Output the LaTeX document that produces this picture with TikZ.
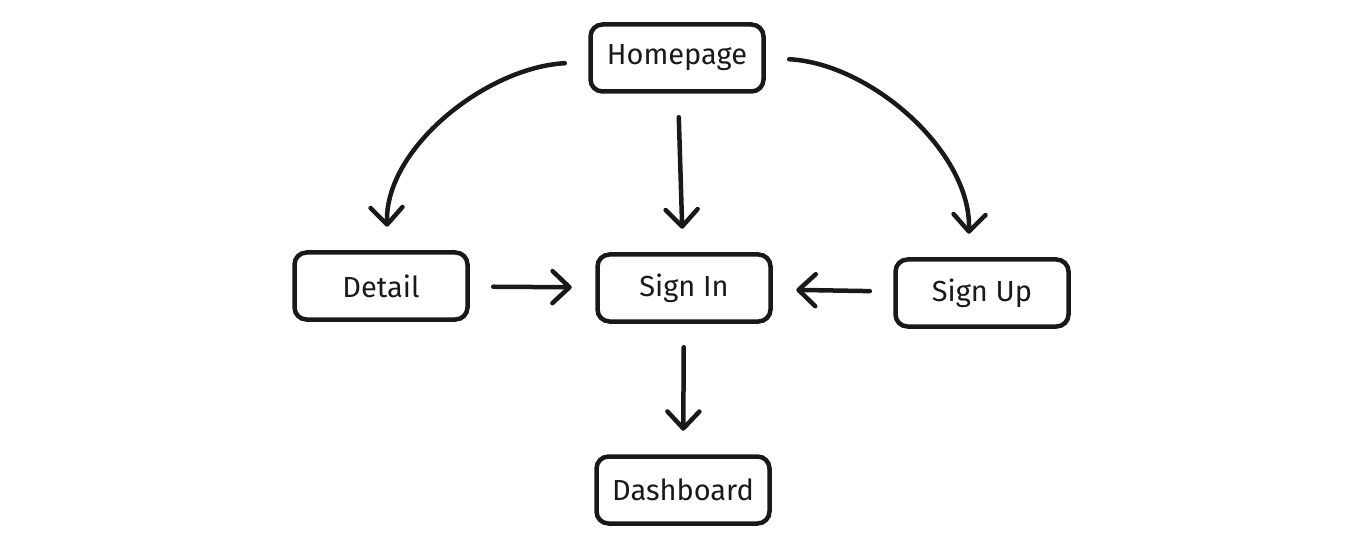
\documentclass[tikz,border=0pt]{standalone}
\usepackage{fontspec}
\setsansfont{Fira Sans}
\usetikzlibrary{positioning,arrows.meta}

\begin{document}
\begin{tikzpicture}[
  x=0.2mm, y=-0.2mm,
  font=\sffamily,
  screen/.style={draw, rounded corners=2.4mm, align=center, minimum width=34.6mm,
                 minimum height=13.4mm, line width=0.9mm, draw=black!90, text=black!90,
                 font=\sffamily\fontsize{16.5}{19}\selectfont},
  flow/.style={-{Straight Barb[length=3.4mm, width=6.4mm, round]}, line width=0.9mm,
               line cap=round, black!90, shorten <=4.7mm, shorten >=4.7mm},
]
  \useasboundingbox (0,0) rectangle (1366,551);

  \node[screen] (home)   at (677,58)  {Homepage};
  \node[screen] (detail) at (381,286) {Detail};
  \node[screen] (signin) at (684,288) {Sign In};
  \node[screen] (signup) at (982,293) {Sign Up};
  \node[screen] (dash)   at (683,490) {Dashboard};

  % curved branches out of the homepage
  \draw[flow] ([yshift=-0.8mm]home.west) to[out=183, in=92, looseness=0.95] ([xshift=1.4mm]detail.north);
  \draw[flow] (home.east) to[out=-3, in=88, looseness=0.95] ([xshift=-2.8mm]signup.north);

  \draw[flow] (home) -- (signin);
  \draw[flow] (detail) -- (signin);
  \draw[flow] (signup) -- (signin);
  \draw[flow] (signin) -- (dash);
\end{tikzpicture}
\end{document}
